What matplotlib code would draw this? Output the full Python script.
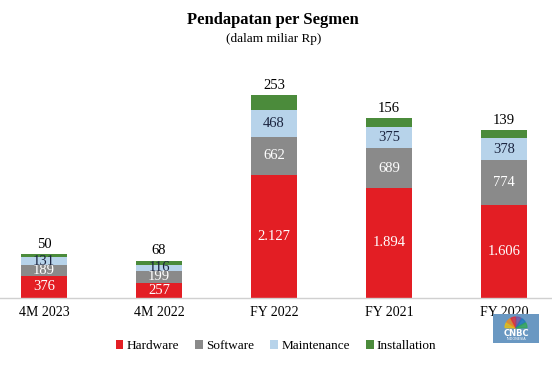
import matplotlib
matplotlib.use("Agg")
import matplotlib.pyplot as plt
import numpy as np
from matplotlib.patches import Patch, Rectangle, Wedge

# --- data ---
periods = ["4M 2023", "4M 2022", "FY 2022", "FY 2021", "FY 2020"]
hardware = [376, 257, 2127, 1894, 1606]
software = [189, 199, 662, 689, 774]
maintenance = [131, 116, 468, 375, 378]
installation = [50, 68, 253, 156, 139]

segments = ["Hardware", "Software", "Maintenance", "Installation"]
colors = ["#E31E24", "#8A8A8A", "#B7D3EA", "#4B8B3B"]
label_colors = ["white", "white", "#1B2540", "black"]

plt.rcParams['font.family'] = ['Liberation Serif', 'DejaVu Serif']


def fmt(v):
    # Indonesian thousands separator
    return f"{v:,}".replace(",", ".")


fig = plt.figure(figsize=(5.52, 3.71), dpi=100)
fig.patch.set_facecolor("white")
ax = fig.add_axes([0, 0.198, 1, 0.573])

x = np.arange(len(periods))
width = 0.4
bottom = np.zeros(len(periods))
series = [hardware, software, maintenance, installation]

for k, vals in enumerate(series):
    vals = np.array(vals)
    ax.bar(x, vals, width, bottom=bottom, color=colors[k], edgecolor="none", zorder=2)
    for i, v in enumerate(vals):
        if k < 3:
            ax.text(x[i], bottom[i] + v / 2, fmt(v), ha="center", va="center",
                    color=label_colors[k], fontsize=10.5, zorder=3)
        else:
            ax.text(x[i], bottom[i] + v + 55, fmt(v), ha="center", va="bottom",
                    color="black", fontsize=10.5, zorder=3)
    bottom += vals

ax.set_xlim(-44 / 115, (552 - 44) / 115)
ax.set_ylim(0, 3683)
ax.set_xticks(x)
ax.set_xticklabels(periods, fontsize=10)
ax.tick_params(axis="x", length=0, pad=6)
ax.set_yticks([])
ax.spines[["top", "right", "left"]].set_visible(False)
ax.spines["bottom"].set_color("#D0D0D0")
ax.spines["bottom"].set_linewidth(1)

fig.text(0.495, 0.945, "Pendapatan per Segmen", ha="center", va="center",
         fontsize=12, fontweight="bold")
fig.text(0.495, 0.895, "(dalam miliar Rp)", ha="center", va="center", fontsize=9.5)

handles = [Patch(facecolor=c, edgecolor="none") for c in colors]
fig.legend(handles, segments, loc="center", bbox_to_anchor=(0.5, 0.067), ncol=4,
           frameon=False, fontsize=9.5, handlelength=0.6, handleheight=0.6,
           handletextpad=0.25, columnspacing=1.2)

# CNBC watermark badge
lax = fig.add_axes([493 / 552, (371 - 343) / 371, 46 / 552, 29 / 371])
lax.set_xlim(0, 46)
lax.set_ylim(0, 29)
lax.axis("off")
lax.add_patch(Rectangle((0, 0), 46, 29, color="#6A98C2"))
peacock = ["#F5C400", "#F08A1C", "#E8262F", "#7B4E9C", "#1B75BB", "#2FA84F"]
for j, c in enumerate(peacock):
    lax.add_patch(Wedge((23, 15), 11, 180 - (j + 1) * 30 + 2, 180 - j * 30 - 2,
                        color=c, alpha=0.7))
lax.text(23, 9, "CNBC", ha="center", va="center", color="white", fontsize=6,
         fontweight="bold", family="DejaVu Sans")
lax.text(23, 3.5, "INDONESIA", ha="center", va="center", color="white", fontsize=2.5,
         family="DejaVu Sans")

fig.savefig("out.png", dpi=100)
